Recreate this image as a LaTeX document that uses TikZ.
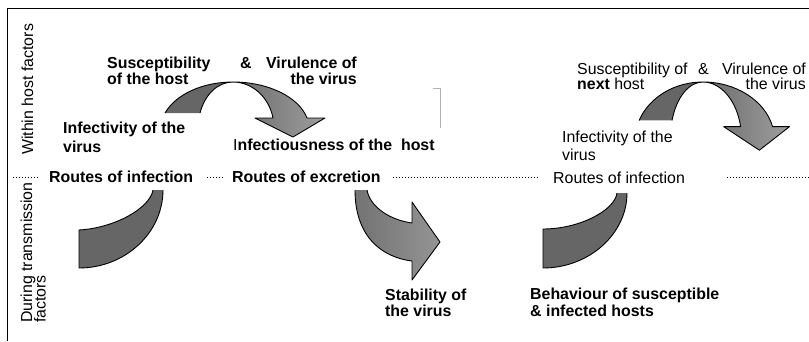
\documentclass[tikz,border=0pt]{standalone}
\usepackage{fontspec}
\setmainfont{Liberation Sans}
\begin{document}
\begin{tikzpicture}[x=1pt,y=-1pt,
  lbl/.style={inner sep=0pt, font=\fontsize{15.9}{16}\selectfont},
  bl/.style={inner sep=0pt, font=\fontsize{15.9}{16}\selectfont\bfseries},
  edge/.style={line width=0.9pt, line join=round},
  dots/.style={line width=1pt, dash pattern=on 1pt off 2pt},
  curvedarrow/.pic={
    \fill[black!60] (-68,31) .. controls (-57,12) and (-30,0) .. (0,0)
      .. controls (-15,0) and (-28,12) .. (-33,31) -- cycle;
    \draw[edge] (-68,31) .. controls (-57,12) and (-30,0) .. (0,0)
      .. controls (-15,0) and (-28,12) .. (-33,31);
    \shade[left color=black!58, right color=black!38]
      (0,0) .. controls (35,0) and (66,15) .. (74,36) -- (92,36) -- (60,55)
      -- (22,36) -- (40,36) .. controls (36,15) and (19,0) .. (0,0) -- cycle;
    \draw[edge]
      (0,0) .. controls (35,0) and (66,15) .. (74,36) -- (92,36) -- (60,55)
      -- (22,36) -- (40,36) .. controls (36,15) and (19,0) .. (0,0) -- cycle;
  }]
\useasboundingbox (0,0) rectangle (809,341);

% frame
\draw[line width=1.2pt] (7.5,341) -- (7.5,8.5) -- (809,8.5);

% dotted divider
\draw[dots] (13,177) -- (38,177);
\draw[dots] (207,177) -- (223,177);
\draw[dots] (393,177) -- (538,177);
\draw[dots] (727,177) -- (809,177);

% faint bracket
\draw[black!30, line width=0.6pt] (433,88) -- (440,88) -- (440,128);

% top curved arrows
\path (233,82) pic {curvedarrow};
\path (703,82) pic[xscale=0.94, yscale=1.24] {curvedarrow};

% bottom-left quarter arrow
\fill[black!60] (153,190) .. controls (150,208) and (115,228) .. (79,230)
  -- (79,268) .. controls (125,268) and (163,233) .. (163,190) -- cycle;
\draw[edge] (153,190) .. controls (150,208) and (115,228) .. (79,230)
  -- (79,268) .. controls (125,268) and (163,233) .. (163,190);

% bottom-right quarter arrow
\fill[black!60] (617,193) .. controls (615,210) and (580,229) .. (543,229)
  -- (543,268) .. controls (589,268) and (627,234) .. (627,193) -- cycle;
\draw[edge] (617,193) .. controls (615,210) and (580,229) .. (543,229)
  -- (543,268) .. controls (589,268) and (627,234) .. (627,193);

% bottom-middle right-pointing arrow
\shade[left color=black!55, right color=black!42]
  (355,190) .. controls (355,235) and (380,257) .. (412,261) -- (412,280)
  -- (440,242) -- (412,202) -- (412,223)
  .. controls (390,220) and (370,207) .. (367,190) -- cycle;
\draw[edge]
  (355,190) .. controls (355,235) and (380,257) .. (412,261) -- (412,280)
  -- (440,242) -- (412,202) -- (412,223)
  .. controls (390,220) and (370,207) .. (367,190);

% side labels
\node[lbl, rotate=90, anchor=base west] (within) at (33,155) {Within host factors};
\node[lbl, rotate=90, anchor=base west] (dur1) at (32,323) {During transmission};
\node[lbl, rotate=90, anchor=base west] (dur2) at (45.5,323) {factors};

% left group
\node[bl, anchor=base west] (s1a) at (107,68) {Susceptibility};
\node[bl, anchor=base west] (s1b) at (107,84) {of the host};
\node[bl, anchor=base west] (amp1) at (240,68) {\&};
\node[bl, anchor=base east] (v1a) at (357,68) {Virulence of};
\node[bl, anchor=base east] (v1b) at (357,84) {the virus};
\node[bl, anchor=base west] (i1a) at (63,133) {Infectivity of the};
\node[bl, anchor=base west] (i1b) at (63,152) {virus};
\node[bl, anchor=base west] (ih) at (233,150) {{\mdseries I}nfectiousness of the\ \ host};
\node[bl, anchor=base west] (r1) at (49,182) {Routes of infection};
\node[bl, anchor=base west] (r2) at (232,182) {Routes of excretion};
\node[bl, anchor=base west] (st1) at (385,300) {Stability of};
\node[bl, anchor=base west] (st2) at (385,316) {the virus};
\node[bl, anchor=base west] (bh1) at (530,299) {Behaviour of susceptible};
\node[bl, anchor=base west] (bh2) at (530,316) {\& infected hosts};

% right group
\node[lbl, anchor=base west] (s2a) at (577,74) {Susceptibility of};
\node[lbl, anchor=base west] (s2b) at (577,89) {\textbf{next} host};
\node[lbl, anchor=base west] (amp2) at (698,74) {\&};
\node[lbl, anchor=base east] (v2a) at (806,74) {Virulence of};
\node[lbl, anchor=base east] (v2b) at (806,89) {the virus};
\node[lbl, anchor=base west] (i2a) at (562,142) {Infectivity of the};
\node[lbl, anchor=base west] (i2b) at (562,160) {virus};
\node[lbl, anchor=base west] (r3) at (553,183) {Routes of infection};
\end{tikzpicture}
\end{document}
